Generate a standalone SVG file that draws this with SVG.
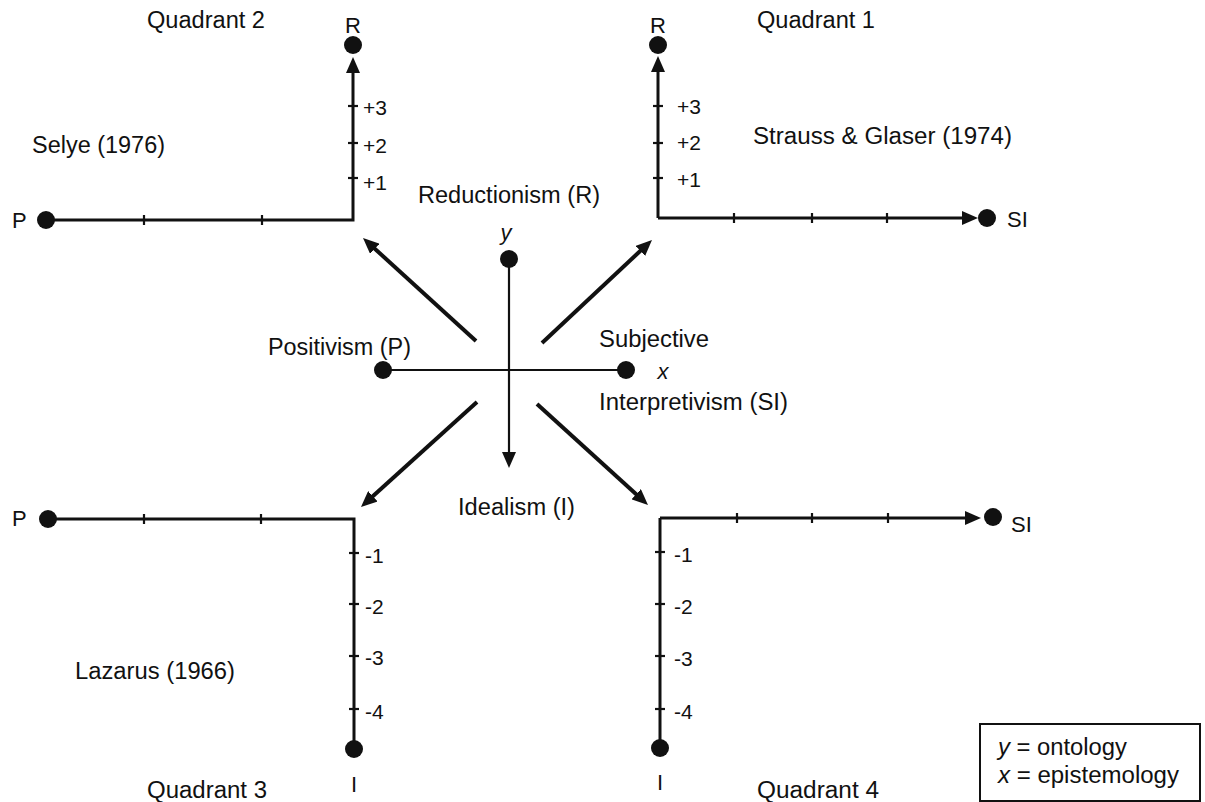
<svg xmlns="http://www.w3.org/2000/svg" width="1205" height="802" viewBox="0 0 1205 802">
<style>
text{font-family:"Liberation Sans",Arial,Helvetica,sans-serif;fill:#111;}
.lb{font-size:23px;}
.sm{font-size:21px;}
.le{font-size:22px;}
.it{font-style:italic;}
.ax{stroke:#111;stroke-width:3;fill:none;}
.cx{stroke:#111;stroke-width:2.2;fill:none;}
.dg{stroke:#111;stroke-width:4;fill:none;}
.tk{stroke:#111;stroke-width:2.2;}
.dot{fill:#111;}
</style>
<defs>
<marker id="ah" viewBox="0 0 16 14" refX="6" refY="7" markerWidth="16" markerHeight="14" markerUnits="userSpaceOnUse" orient="auto">
<path d="M0,0 L16,7 L0,14 z" fill="#111"/>
</marker>
</defs>
<rect width="1205" height="802" fill="#fff"/>

<g id="connectors">
<polyline class="ax" points="46,220 353,220 353,67" marker-end="url(#ah)"/>
<line class="ax" x1="658" y1="218" x2="658" y2="66" marker-end="url(#ah)"/>
<line class="ax" x1="658" y1="218" x2="968" y2="218" marker-end="url(#ah)"/>
<polyline class="ax" points="48,519 354,519 354,749"/>
<line class="ax" x1="660" y1="518" x2="660" y2="748"/>
<line class="ax" x1="660" y1="518" x2="971" y2="518" marker-end="url(#ah)"/>
<line class="cx" x1="509" y1="259" x2="509" y2="458" marker-end="url(#ah)"/>
<line class="cx" x1="383" y1="370" x2="626" y2="370"/>
<line class="dg" x1="476" y1="341" x2="370.4" y2="244.7" marker-end="url(#ah)"/>
<line class="dg" x1="542" y1="343" x2="644.7" y2="246.8" marker-end="url(#ah)"/>
<line class="dg" x1="477" y1="402" x2="368.4" y2="500.3" marker-end="url(#ah)"/>
<line class="dg" x1="537" y1="404" x2="640.6" y2="498.3" marker-end="url(#ah)"/>
<g class="tk">
<line x1="144" y1="215" x2="144" y2="225"/><line x1="262" y1="215" x2="262" y2="225"/>
<line x1="348" y1="106" x2="358" y2="106"/><line x1="348" y1="143" x2="358" y2="143"/><line x1="348" y1="178" x2="358" y2="178"/>
<line x1="653" y1="106" x2="663" y2="106"/><line x1="653" y1="143" x2="663" y2="143"/><line x1="653" y1="178" x2="663" y2="178"/>
<line x1="734" y1="213" x2="734" y2="223"/><line x1="812" y1="213" x2="812" y2="223"/><line x1="887" y1="213" x2="887" y2="223"/>
<line x1="144" y1="514" x2="144" y2="524"/><line x1="261" y1="514" x2="261" y2="524"/>
<line x1="349" y1="553" x2="359" y2="553"/><line x1="349" y1="604" x2="359" y2="604"/><line x1="349" y1="656" x2="359" y2="656"/><line x1="349" y1="709" x2="359" y2="709"/>
<line x1="655" y1="552" x2="665" y2="552"/><line x1="655" y1="604" x2="665" y2="604"/><line x1="655" y1="656" x2="665" y2="656"/><line x1="655" y1="709" x2="665" y2="709"/>
<line x1="737" y1="513" x2="737" y2="523"/><line x1="812" y1="513" x2="812" y2="523"/><line x1="888" y1="513" x2="888" y2="523"/>
</g>
</g>

<g id="quadrant2">
<circle class="dot" cx="46" cy="220" r="9"/>
<circle class="dot" cx="353" cy="45" r="9"/>
<text class="lb" x="147" y="28" textLength="118" lengthAdjust="spacingAndGlyphs">Quadrant 2</text>
<text class="lb" x="32" y="153" textLength="133" lengthAdjust="spacingAndGlyphs">Selye (1976)</text>
<text class="le" x="12" y="228">P</text>
<text class="le" x="353" y="33" text-anchor="middle">R</text>
<text class="sm" x="363" y="115">+3</text>
<text class="sm" x="363" y="153">+2</text>
<text class="sm" x="363" y="190">+1</text>
</g>

<g id="quadrant1">
<circle class="dot" cx="658" cy="45" r="9"/>
<circle class="dot" cx="987" cy="218" r="9"/>
<text class="lb" x="757" y="28" textLength="118" lengthAdjust="spacingAndGlyphs">Quadrant 1</text>
<text class="lb" x="753" y="144" textLength="259" lengthAdjust="spacingAndGlyphs">Strauss &amp; Glaser (1974)</text>
<text class="le" x="658" y="33" text-anchor="middle">R</text>
<text class="le" x="1007" y="227">SI</text>
<text class="sm" x="677" y="114">+3</text>
<text class="sm" x="677" y="150">+2</text>
<text class="sm" x="677" y="187">+1</text>
</g>

<g id="quadrant3">
<circle class="dot" cx="48" cy="519" r="9"/>
<circle class="dot" cx="354" cy="749" r="9"/>
<text class="le" x="12" y="526">P</text>
<text class="lb" x="75" y="679" textLength="160" lengthAdjust="spacingAndGlyphs">Lazarus (1966)</text>
<text class="lb" x="147" y="798" textLength="120" lengthAdjust="spacingAndGlyphs">Quadrant 3</text>
<text class="le" x="354" y="792" text-anchor="middle">I</text>
<text class="sm" x="365" y="563">-1</text>
<text class="sm" x="365" y="614">-2</text>
<text class="sm" x="365" y="665">-3</text>
<text class="sm" x="365" y="719">-4</text>
</g>

<g id="quadrant4">
<circle class="dot" cx="660" cy="748" r="9"/>
<circle class="dot" cx="993" cy="517" r="9"/>
<text class="le" x="1011" y="532">SI</text>
<text class="lb" x="757" y="798" textLength="122" lengthAdjust="spacingAndGlyphs">Quadrant 4</text>
<text class="le" x="660" y="790" text-anchor="middle">I</text>
<text class="sm" x="674" y="562">-1</text>
<text class="sm" x="674" y="614">-2</text>
<text class="sm" x="674" y="666">-3</text>
<text class="sm" x="674" y="719">-4</text>
</g>

<g id="center">
<circle class="dot" cx="509" cy="259" r="9"/>
<circle class="dot" cx="383" cy="370" r="9"/>
<circle class="dot" cx="626" cy="370" r="9"/>
<text class="lb" x="418" y="203" textLength="182" lengthAdjust="spacingAndGlyphs">Reductionism (R)</text>
<text class="le it" x="506" y="240" text-anchor="middle">y</text>
<text class="lb" x="268" y="355" textLength="143" lengthAdjust="spacingAndGlyphs">Positivism (P)</text>
<text class="lb" x="599" y="347" textLength="110" lengthAdjust="spacingAndGlyphs">Subjective</text>
<text class="le it" x="663" y="379" text-anchor="middle">x</text>
<text class="lb" x="599" y="410" textLength="189" lengthAdjust="spacingAndGlyphs">Interpretivism (SI)</text>
<text class="lb" x="458" y="515" textLength="117" lengthAdjust="spacingAndGlyphs">Idealism (I)</text>
</g>

<g id="legend">
<rect x="980" y="724" width="220" height="77" fill="none" stroke="#111" stroke-width="2"/>
<text class="lb" x="998" y="755" textLength="129" lengthAdjust="spacingAndGlyphs"><tspan class="it">y</tspan> = ontology</text>
<text class="lb" x="998" y="783" textLength="181" lengthAdjust="spacingAndGlyphs"><tspan class="it">x</tspan> = epistemology</text>
</g>
</svg>
